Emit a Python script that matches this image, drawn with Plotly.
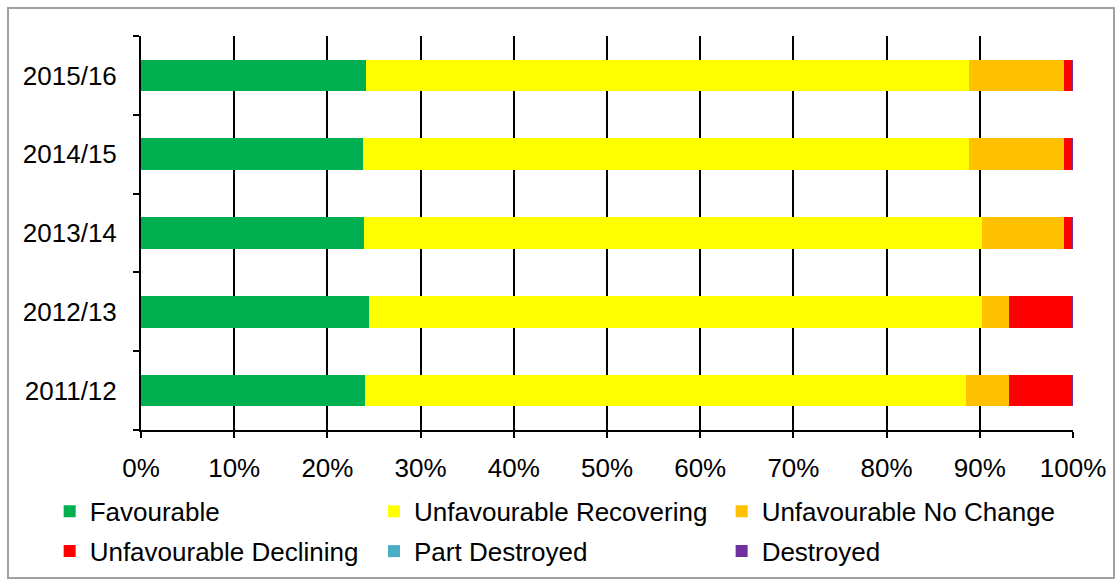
import plotly.graph_objects as go

years = ["2011/12", "2012/13", "2013/14", "2014/15", "2015/16"]

favourable = [24.0, 24.5, 23.9, 23.8, 24.1]
unfav_recovering = [64.5, 65.7, 66.3, 65.0, 64.7]
unfav_no_change = [4.6, 2.9, 8.8, 10.2, 10.2]
unfav_declining = [6.8, 6.8, 0.9, 0.9, 0.9]
part_destroyed = [0.05, 0.05, 0.05, 0.05, 0.05]
destroyed = [0.05, 0.05, 0.05, 0.05, 0.05]

x_ticks = [0, 10, 20, 30, 40, 50, 60, 70, 80, 90, 100]
x_tick_labels = [f"{v}%" for v in x_ticks]

series = [
    ("Favourable", favourable, "#00B050", "legend"),
    ("Unfavourable Recovering", unfav_recovering, "#FFFF00", "legend2"),
    ("Unfavourable No Change", unfav_no_change, "#FFC000", "legend3"),
    ("Unfavourable Declining", unfav_declining, "#FF0000", "legend"),
    ("Part Destroyed", part_destroyed, "#4BACC6", "legend2"),
    ("Destroyed", destroyed, "#7030A0", "legend3"),
]

FONT = "Liberation Sans, Arial, sans-serif"
fig = go.Figure()
for name, vals, color, leg in series:
    fig.add_trace(go.Bar(
        y=years, x=vals, name=name, orientation="h",
        marker=dict(color=color, line=dict(width=0)),
        legend=leg, legendgroup=name,
    ))

legend_common = dict(
    orientation="v", yanchor="top", y=-0.147, xanchor="left",
    font=dict(family=FONT, size=26, color="#000"),
    bgcolor="rgba(0,0,0,0)", tracegroupgap=3, itemwidth=30,
    traceorder="grouped",
)

fig.update_layout(
    width=1115, height=579,
    margin=dict(l=141, r=42, t=36, b=149, autoexpand=False),
    barmode="stack", bargap=0.6,
    plot_bgcolor="white", paper_bgcolor="white",
    font=dict(family=FONT, size=26, color="#000"),
    legend=dict(x=-0.098, **legend_common),
    legend2=dict(x=0.250, **legend_common),
    legend3=dict(x=0.623, **legend_common),
    xaxis=dict(
        range=[0, 100], tickvals=x_ticks, ticktext=x_tick_labels,
        showgrid=True, gridcolor="#000", gridwidth=1.5,
        showline=True, linecolor="#000", linewidth=2,
        ticks="outside", ticklen=6, tickcolor="#000", tickwidth=1.5,
        zeroline=False, fixedrange=True, ticklabelstandoff=8,
    ),
    yaxis=dict(
        type="category", categoryorder="array", categoryarray=years,
        showline=True, linecolor="#000", linewidth=2,
        ticks="outside", tickson="boundaries", ticklen=6,
        tickcolor="#000", tickwidth=1.5, showgrid=False,
        ticklabelstandoff=17, fixedrange=True,
    ),
    shapes=[dict(
        type="rect", xref="paper", yref="paper",
        x0=-0.1427, x1=1.044, y0=-0.3756, y1=1.071,
        line=dict(color="#a0a0a0", width=2), fillcolor="rgba(0,0,0,0)",
        layer="below",
    )],
)

fig.write_html("out.html")
